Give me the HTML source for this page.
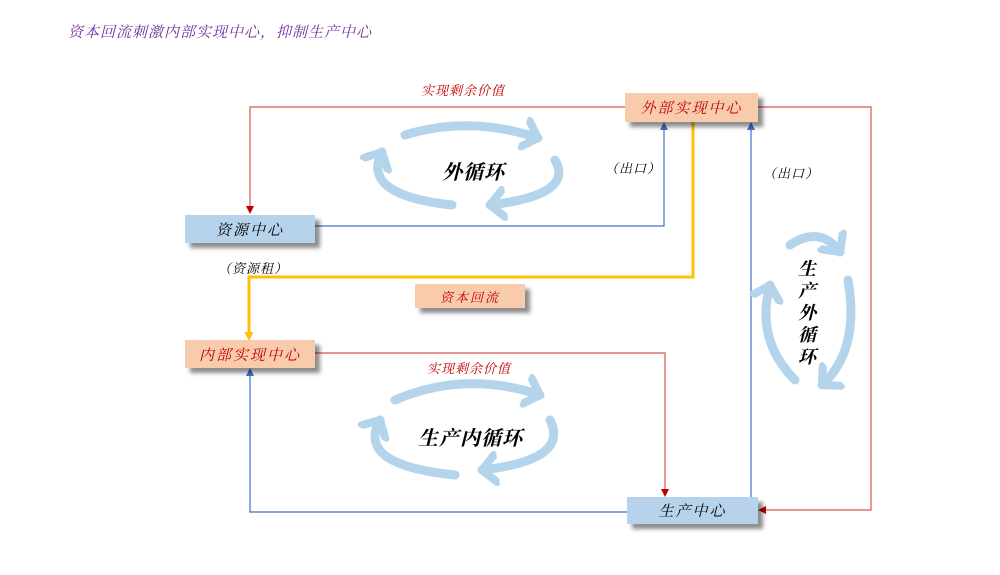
<!DOCTYPE html>
<html><head><meta charset="utf-8"><style>
body{margin:0;width:1000px;height:575px;background:#fff;overflow:hidden;position:relative;font-family:"Liberation Serif","Noto Serif CJK SC","Noto Sans CJK SC",serif;}
.t{position:absolute;white-space:nowrap;font-style:italic}
.box{position:absolute;display:flex;align-items:center;justify-content:center;font-style:italic;font-size:15px;letter-spacing:2px;box-shadow:5px 5px 4px rgba(0,0,0,0.45)}
.o{background:#f8cbad;color:#c00000}
.b{background:#b7d3ec;color:#000}
</style></head><body>
<svg width="1000" height="575" style="position:absolute;left:0;top:0">
<defs>
<marker id="ar" markerWidth="8" markerHeight="8" refX="6" refY="4" orient="auto" markerUnits="userSpaceOnUse"><path d="M0,0 L8,4 L0,8 z" fill="#c00000"/></marker>
<marker id="ab" markerWidth="8" markerHeight="8" refX="6" refY="4" orient="auto" markerUnits="userSpaceOnUse"><path d="M0,0 L8,4 L0,8 z" fill="#4472c4"/></marker>
<marker id="ay" markerWidth="9" markerHeight="9" refX="6" refY="4.5" orient="auto" markerUnits="userSpaceOnUse"><path d="M0,0 L9,4.5 L0,9 z" fill="#ffc000"/></marker>
<marker id="c" markerWidth="4" markerHeight="4" refX="1.8" refY="2" orient="auto"><path d="M0.3,0.5 L1.8,2 L0.3,3.5" fill="none" stroke="#b4d4ec" stroke-width="0.9" stroke-linecap="round" stroke-linejoin="round"/></marker>
</defs>
<g fill="none" stroke-width="1.2">
<polyline points="625,107 250,107 250,212" stroke="#d9534f" marker-end="url(#ar)"/>
<polyline points="758,107 871,107 871,510 760,510" stroke="#d9534f" marker-end="url(#ar)"/>
<polyline points="315,226 664,226 664,124" stroke="#4472c4" marker-end="url(#ab)"/>
<polyline points="751,497 751,124" stroke="#4472c4" marker-end="url(#ab)"/>
<polyline points="693,122 693,277 249,277 249,338" stroke="#ffc000" stroke-width="3" marker-end="url(#ay)"/>
<polyline points="315,353 665,353 665,495" stroke="#d9534f" marker-end="url(#ar)"/>
<polyline points="627,512 250,512 250,370" stroke="#4472c4" marker-end="url(#ab)"/>
</g>
<g fill="none" stroke="#b4d4ec" stroke-width="9" stroke-linecap="round">
<path d="M405,135 Q470,115 538,138" marker-end="url(#c)"/>
<path d="M555,160 Q575,195 490,205" marker-end="url(#c)"/>
<path d="M452,205 Q360,195 382,152" marker-end="url(#c)"/>
<path d="M395,400 Q465,370 540,395" marker-end="url(#c)"/>
<path d="M550,420 Q570,460 482,470" marker-end="url(#c)"/>
<path d="M455,475 Q355,465 380,420" marker-end="url(#c)"/>
<path d="M790,245 Q820,225 840,252" marker-end="url(#c)"/>
<path d="M848,280 Q860,350 822,385" marker-end="url(#c)"/>
<path d="M795,380 Q755,340 770,285" marker-end="url(#c)"/>
</g>
</svg>
<div class="t" style="left:68px;top:21px;font-size:15px;color:#7030a0;letter-spacing:1px">资本回流刺激内部实现中心，抑制生产中心</div>
<div class="t" style="left:421px;top:80px;font-size:13px;color:#c00000;letter-spacing:1px">实现剩余价值</div>
<div class="t" style="left:427px;top:358px;font-size:13px;color:#c00000;letter-spacing:1px">实现剩余价值</div>
<div class="t" style="left:605px;top:158px;font-size:13px;letter-spacing:1px">（出口）</div>
<div class="t" style="left:763px;top:163px;font-size:13px;letter-spacing:1px">（出口）</div>
<div class="t" style="left:218px;top:258px;font-size:13px;letter-spacing:1px">（资源租）</div>
<div class="t" style="left:442px;top:156px;font-size:20px;font-weight:bold;letter-spacing:1px">外循环</div>
<div class="t" style="left:418px;top:422px;font-size:20px;font-weight:bold;letter-spacing:1px">生产内循环</div>
<div class="t" style="left:798px;top:258px;font-size:18px;font-weight:bold;line-height:22px;width:22px;white-space:normal">生产外循环</div>
<div class="box o" style="left:625px;top:93px;width:133px;height:29px">外部实现中心</div>
<div class="box b" style="left:185px;top:215px;width:130px;height:28px">资源中心</div>
<div class="box o" style="left:415px;top:284px;width:110px;height:24px;font-size:13px">资本回流</div>
<div class="box o" style="left:185px;top:340px;width:130px;height:28px">内部实现中心</div>
<div class="box b" style="left:627px;top:497px;width:131px;height:27px">生产中心</div>
</body></html>
